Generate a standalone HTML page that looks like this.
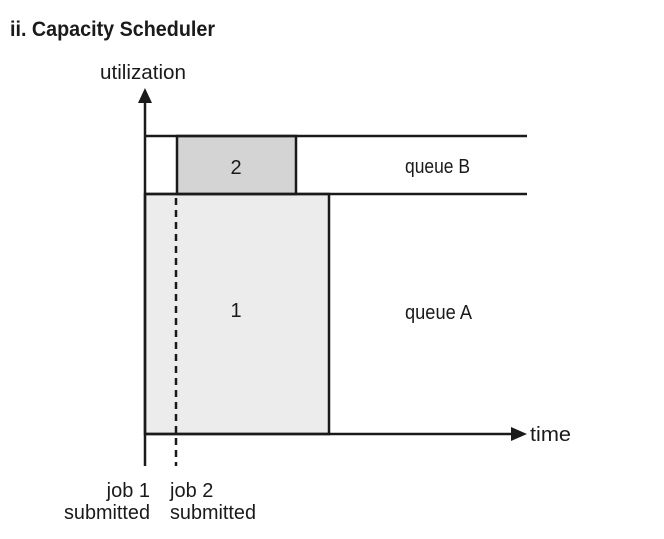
<!DOCTYPE html>
<html><head><meta charset="utf-8"><style>
html,body{margin:0;padding:0;background:#fff;}
svg text{font-family:"Liberation Sans Narrow","Liberation Sans",sans-serif;fill:#1a1a1a;}
</style></head><body>
<svg width="664" height="534" viewBox="0 0 664 534" xmlns="http://www.w3.org/2000/svg">
<rect width="664" height="534" fill="#fff"/>
<text x="10" y="36" font-size="21" font-weight="bold" textLength="205" lengthAdjust="spacingAndGlyphs">ii. Capacity Scheduler</text>
<text x="100" y="79" font-size="20" textLength="86" lengthAdjust="spacingAndGlyphs">utilization</text>
<rect x="145" y="194" width="184" height="240" fill="#ececec" stroke="#1a1a1a" stroke-width="2.5"/>
<rect x="177" y="136" width="119" height="58" fill="#d4d4d4" stroke="#1a1a1a" stroke-width="2.5"/>
<line x1="145" y1="136" x2="527" y2="136" stroke="#1a1a1a" stroke-width="2.5"/>
<line x1="145" y1="194" x2="527" y2="194" stroke="#1a1a1a" stroke-width="2.5"/>
<line x1="145" y1="100" x2="145" y2="466" stroke="#1a1a1a" stroke-width="2.5"/>
<polygon points="145,88 138,103 152,103" fill="#1a1a1a"/>
<line x1="145" y1="434" x2="513" y2="434" stroke="#1a1a1a" stroke-width="2.5"/>
<polygon points="527,434 511,427 511,441" fill="#1a1a1a"/>
<line x1="176" y1="198" x2="176" y2="466" stroke="#1a1a1a" stroke-width="2.5" stroke-dasharray="7,5"/>
<text x="236" y="174" font-size="20" text-anchor="middle">2</text>
<text x="236" y="317" font-size="20" text-anchor="middle">1</text>
<text x="405" y="173" font-size="20" textLength="65" lengthAdjust="spacingAndGlyphs">queue B</text>
<text x="405" y="319" font-size="20" textLength="67" lengthAdjust="spacingAndGlyphs">queue A</text>
<text x="530" y="441" font-size="20" textLength="41" lengthAdjust="spacingAndGlyphs">time</text>
<text x="150" y="497" font-size="20" text-anchor="end">job 1</text>
<text x="64" y="519" font-size="20" textLength="86" lengthAdjust="spacingAndGlyphs">submitted</text>
<text x="170" y="497" font-size="20">job 2</text>
<text x="170" y="519" font-size="20" textLength="86" lengthAdjust="spacingAndGlyphs">submitted</text>
</svg>
</body></html>
